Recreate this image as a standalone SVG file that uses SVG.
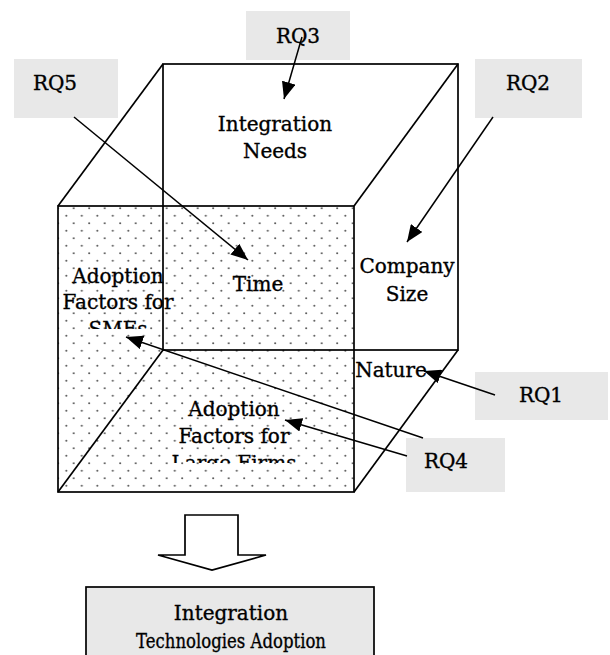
<svg xmlns="http://www.w3.org/2000/svg" width="610" height="655" viewBox="0 0 610 655">
<style>
.t{font-family:"DejaVu Serif","Liberation Serif",serif;font-size:20px;fill:#000;stroke:#000;stroke-width:0.35;text-anchor:middle}
.rq{fill:#e8e8e8;stroke:none}
.edge{stroke:#000;stroke-width:1.7;fill:none}
.arr{stroke:#000;stroke-width:1.5;fill:none;marker-end:url(#ah)}
</style>
<defs>
<pattern id="dots" patternUnits="userSpaceOnUse" x="62" y="204" width="15.5" height="15">
<circle cx="11.7" cy="4.3" r="1" fill="#555"/>
<circle cx="4.3" cy="11.7" r="1" fill="#555"/>
</pattern>
<marker id="ah" markerUnits="userSpaceOnUse" markerWidth="18" markerHeight="14" refX="17" refY="7" orient="auto">
<path d="M0,0 L17,7 L0,14 z" fill="#000"/>
</marker>
<clipPath id="c1"><rect x="58" y="250" width="120" height="79"/></clipPath>
<clipPath id="c2"><rect x="170" y="385" width="130" height="78"/></clipPath>
</defs>
<rect width="610" height="655" fill="#fff"/>

<g id="cube">
<rect x="58" y="206" width="296" height="286" fill="url(#dots)" stroke="none"/>
<rect class="edge" x="163" y="64" width="295" height="286"/>
<rect class="edge" x="58" y="206" width="296" height="286"/>
<line class="edge" x1="58" y1="206" x2="163" y2="64"/>
<line class="edge" x1="354" y1="206" x2="458" y2="64"/>
<line class="edge" x1="354" y1="492" x2="458" y2="350"/>
<line class="edge" x1="58" y1="492" x2="163" y2="350"/>
</g>

<g id="integration-needs"><text class="t" x="275" y="131">Integration</text><text class="t" x="275" y="158">Needs</text></g>
<g id="time"><text class="t" x="258" y="291">Time</text></g>
<g id="company-size"><text class="t" x="407" y="273">Company</text><text class="t" x="407" y="301">Size</text></g>
<g id="nature"><text class="t" x="391" y="377">Nature</text></g>
<g id="smes" clip-path="url(#c1)"><text class="t" x="118" y="283">Adoption</text><text class="t" x="118" y="309">Factors for</text><text class="t" x="118" y="336">SMEs</text></g>
<g id="large-firms" clip-path="url(#c2)"><text class="t" x="234" y="416">Adoption</text><text class="t" x="234" y="443">Factors for</text><text class="t" x="234" y="470">Large Firms</text></g>

<g id="rq3"><rect class="rq" x="246" y="11" width="104" height="49"/><text class="t" x="298" y="43">RQ3</text></g>
<g id="rq5"><rect class="rq" x="14" y="59" width="104" height="59"/><text class="t" x="55" y="90">RQ5</text></g>
<g id="rq2"><rect class="rq" x="475" y="59" width="107" height="59"/><text class="t" x="528" y="90">RQ2</text></g>
<g id="rq1"><rect class="rq" x="475" y="372" width="133" height="48"/><text class="t" x="541" y="402">RQ1</text></g>
<g id="rq4"><rect class="rq" x="406" y="438" width="99" height="54"/><text class="t" x="446" y="468">RQ4</text></g>

<g id="connectors">
<line class="arr" x1="302" y1="37" x2="284" y2="99"/>
<line class="arr" x1="74" y1="117" x2="248" y2="260"/>
<line class="arr" x1="493" y1="117" x2="407" y2="242"/>
<line class="arr" x1="495" y1="395" x2="424" y2="371"/>
<line class="arr" x1="423" y1="438" x2="126" y2="337"/>
<line class="arr" x1="407" y1="456" x2="285" y2="420"/>
</g>

<g id="block-arrow"><polygon points="185,515 238,515 238,555 266,555 212,570 158,555 185,555" fill="#fff" stroke="#000" stroke-width="1.7"/></g>

<g id="adoption">
<rect x="86" y="587" width="288" height="80" fill="#e8e8e8" stroke="#000" stroke-width="1.7"/>
<text class="t" x="231" y="620">Integration</text>
<text class="t" x="231" y="648" textLength="190" lengthAdjust="spacingAndGlyphs">Technologies Adoption</text>
</g>
</svg>
